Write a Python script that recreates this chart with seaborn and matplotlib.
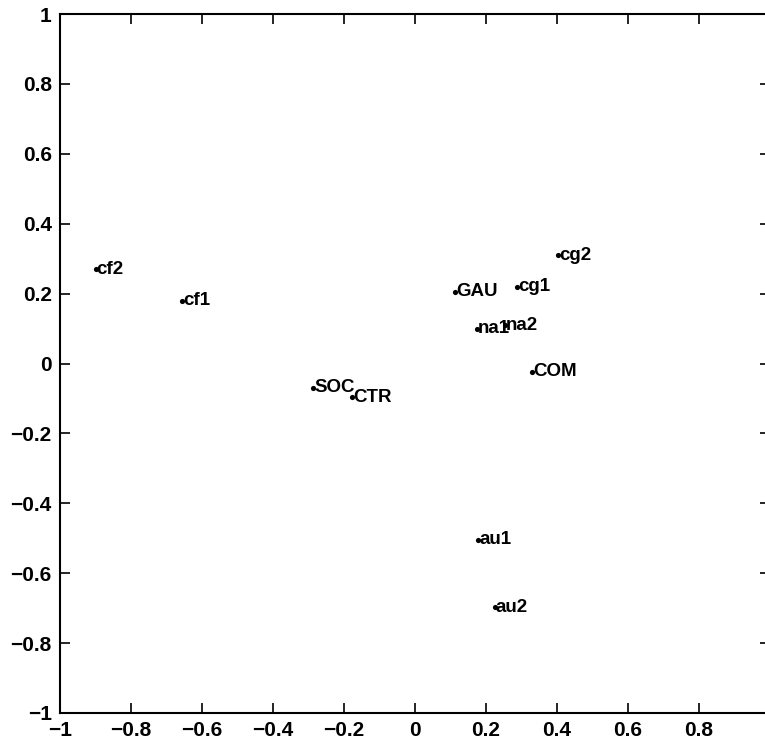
import matplotlib
matplotlib.use("Agg")
import matplotlib.pyplot as plt
import seaborn as sns
import pandas as pd

# point labels and their coordinates
labels = ["cf2", "cf1", "SOC", "CTR", "GAU", "cg1", "cg2", "na1", "na2", "COM", "au1", "au2"]
x_vals = [-0.90, -0.656, -0.287, -0.177, 0.113, 0.287, 0.403, 0.175, 0.254, 0.330, 0.178, 0.225]
y_vals = [0.270, 0.180, -0.070, -0.096, 0.205, 0.219, 0.310, 0.100, 0.110, -0.024, -0.505, -0.697]

tick_vals = [-1, -0.8, -0.6, -0.4, -0.2, 0, 0.2, 0.4, 0.6, 0.8, 1]
y_tick_labels = ["\u22121", "\u22120.8", "\u22120.6", "\u22120.4", "\u22120.2", "0",
                 "0.2", "0.4", "0.6", "0.8", "1"]
# the "1" at the right end falls outside the picture in the reference
x_tick_labels = y_tick_labels[:-1] + [""]

df = pd.DataFrame({"x": x_vals, "y": y_vals, "label": labels})

sns.set_style("ticks")
plt.rcParams["font.family"] = ["Liberation Sans", "DejaVu Sans"]

fig = plt.figure(figsize=(7.65, 7.40), dpi=100)
ax = fig.add_axes([60 / 765, 1 - 713 / 740, 710 / 765, 699 / 740])

sns.scatterplot(data=df, x="x", y="y", ax=ax, color="black", s=14,
                edgecolor="black", linewidth=0, legend=False)

# labels sit right on their point, starting at the marker
for _, row in df.iterrows():
    ax.text(row["x"] + 0.003, row["y"], row["label"], ha="left", va="center",
            fontsize=13.5, fontweight="bold", color="black")

ax.set_xlim(-1, 1)
ax.set_ylim(-1, 1)
ax.set_xticks(tick_vals)
ax.set_xticklabels(x_tick_labels)
ax.set_yticks(tick_vals)
ax.set_yticklabels(y_tick_labels)
ax.set_xlabel("")
ax.set_ylabel("")

ax.tick_params(direction="in", length=7, width=1.2, top=True, right=True,
               labelsize=15, pad=6, colors="black")
for lab in ax.get_xticklabels() + ax.get_yticklabels():
    lab.set_fontweight("bold")
for side in ["top", "bottom", "left", "right"]:
    ax.spines[side].set_visible(True)
    ax.spines[side].set_linewidth(1.5)
    ax.spines[side].set_color("black")

fig.savefig("out.png", dpi=100)
